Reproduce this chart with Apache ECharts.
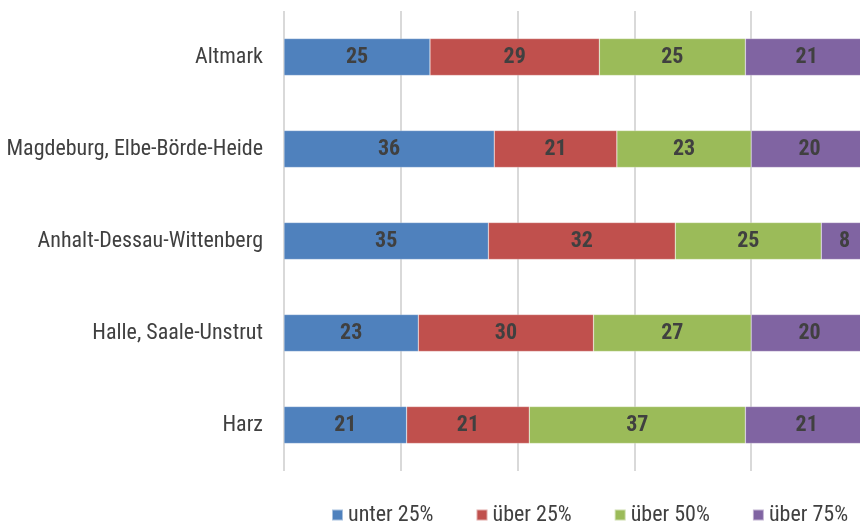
<!DOCTYPE html>
<html>
<head>
<meta charset="utf-8">
<script src="https://cdn.jsdelivr.net/npm/echarts@6/dist/echarts.min.js"></script>
<style>
html,body{margin:0;padding:0;background:#fff;}
#chart{width:860px;height:522px;}
</style>
</head>
<body>
<div id="chart"></div>
<script>
const categories = ["Altmark", "Magdeburg, Elbe-Börde-Heide", "Anhalt-Dessau-Wittenberg", "Halle, Saale-Unstrut", "Harz"];
const seriesNames = ["unter 25%", "über 25%", "über 50%", "über 75%"];
const unter25 = [25, 36, 35, 23, 21];
const ueber25 = [29, 21, 32, 30, 21];
const ueber50 = [25, 23, 25, 27, 37];
const ueber75 = [21, 20, 8, 20, 21];
const colors = ["#4F81BD", "#C0504D", "#9BBB59", "#8064A2"];
const values = [unter25, ueber25, ueber50, ueber75];

const FONT = "'Roboto Condensed', 'Liberation Sans', sans-serif";
const chart = echarts.init(document.getElementById('chart'));
chart.setOption({
  animation: false,
  color: colors,
  grid: {left: 284, right: -8, top: 11, bottom: 51, containLabel: false, outerBoundsMode: 'none'},
  legend: {
    data: seriesNames,
    left: 326, top: 499,
    itemWidth: 11, itemHeight: 11, itemGap: 42,
    icon: 'rect',
    textStyle: {fontFamily: FONT, fontSize: 22, color: '#404040'}
  },
  xAxis: {
    type: 'value', min: 0, max: 100, interval: 20,
    axisLabel: {show: false}, axisLine: {show: false}, axisTick: {show: false},
    splitLine: {lineStyle: {color: '#d9d9d9', width: 2}}
  },
  yAxis: {
    type: 'category', data: categories, inverse: true,
    axisLine: {show: false}, axisTick: {show: false},
    axisLabel: {margin: 21, fontFamily: FONT, fontSize: 22, color: '#404040'}
  },
  series: values.map((v, i) => ({
    name: seriesNames[i], type: 'bar', stack: 'total', data: v,
    barWidth: 37,
    itemStyle: {color: colors[i], borderColor: 'rgba(255,255,255,0.5)', borderWidth: 0.5},
    label: {show: true, position: 'inside', fontFamily: FONT, fontSize: 22, fontWeight: 'bold', color: '#404040'}
  }))
});
</script>
</body>
</html>
